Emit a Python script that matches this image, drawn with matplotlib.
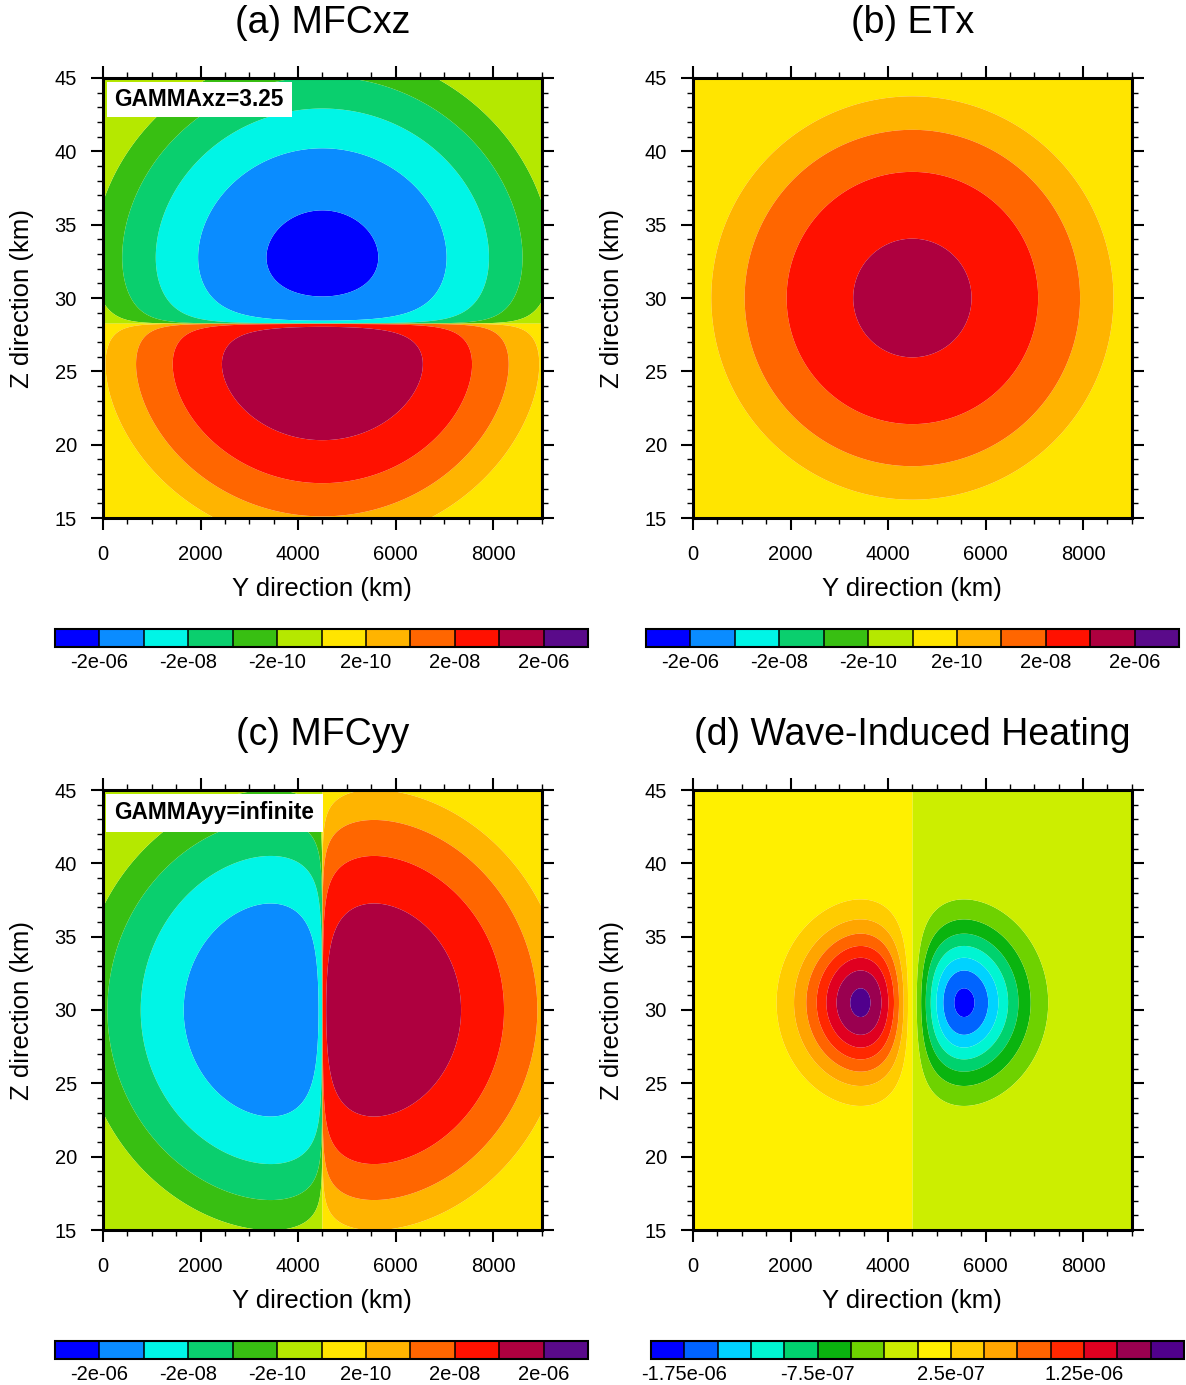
import numpy as np
import matplotlib
matplotlib.use("Agg")
import matplotlib.pyplot as plt
from matplotlib.patches import Rectangle

plt.rcParams['font.family'] = ['Liberation Sans', 'DejaVu Sans']

# ---------------------------------------------------------------- domain
Y_RANGE = [0.0, 9000.0]          # km
Z_RANGE = [15.0, 45.0]           # km
Y_TICKS = [0, 2000, 4000, 6000, 8000]
Z_TICKS = [15, 20, 25, 30, 35, 40, 45]

# ------------------------------------------------ wave-packet parameters
Y_CENTER = 4500.0     # km
Y_WIDTH = 1500.0      # km, e-folding half width
Z_CENTER = 30.0       # km
Z_WIDTH = 5.0         # km
Z_CRITICAL = 28.25    # km, level where MFCxz changes sign
Z_HEATING = 30.5      # km, centre of the heating dipole

ETX_AMP = 3.85e-7     # peak of ETx
MFCXZ_AMP = 1.08e-6   # MFCxz slope per km away from the sign-change level
MFCYY_AMP = 3.85e-6   # MFCyy dipole amplitude
HEAT_AMP = 4.24e-6    # heating dipole amplitude

# ---------------------------------------------------------- contour sets
LOG_LEVELS = [-2e-6, -2e-7, -2e-8, -2e-9, -2e-10, 0.0,
              2e-10, 2e-9, 2e-8, 2e-7, 2e-6]
LOG_TICKS = [-2e-6, -2e-8, -2e-10, 2e-10, 2e-8, 2e-6]
LOG_TICK_LABELS = ['-2e-06', '-2e-08', '-2e-10', '2e-10', '2e-08', '2e-06']
LOG_COLORS = ['#0000FF', '#0A8CFF', '#00F5E6', '#0ACF6E', '#38BF12', '#B5E800',
              '#FFE500', '#FFB400', '#FF6600', '#FF1100', '#AE003F', '#5A0A8A']

HEAT_LEVELS = [-1.75e-6, -1.5e-6, -1.25e-6, -1.0e-6, -7.5e-7, -5.0e-7, -2.5e-7,
               0.0, 2.5e-7, 5.0e-7, 7.5e-7, 1.0e-6, 1.25e-6, 1.5e-6, 1.75e-6]
HEAT_TICKS = [-1.75e-6, -7.5e-7, 2.5e-7, 1.25e-6]
HEAT_TICK_LABELS = ['-1.75e-06', '-7.5e-07', '2.5e-07', '1.25e-06']
HEAT_COLORS = ['#0000FF', '#0064FF', '#00D2FF', '#00F5D2', '#00D26E', '#0AB40F',
               '#6ED200', '#CCEE00', '#FFF000', '#FFCC00', '#FFA500', '#FF6400',
               '#FF2800', '#E00020', '#9A0050', '#50008C']

TITLES = ['(a) MFCxz', '(b) ETx', '(c) MFCyy', '(d) Wave-Induced Heating']
NOTES = ['GAMMAxz=3.25', None, 'GAMMAyy=infinite', None]

# ------------------------------------------------------------ the fields
y = np.linspace(Y_RANGE[0], Y_RANGE[1], 901)
z = np.linspace(Z_RANGE[0], Z_RANGE[1], 1201)
Y, Z = np.meshgrid(y, z)
ey = (Y - Y_CENTER) / Y_WIDTH
gy = np.exp(-ey ** 2)
gz = np.exp(-((Z - Z_CENTER) / Z_WIDTH) ** 2)

etx = ETX_AMP * gy * gz
mfcxz = -MFCXZ_AMP * (Z - Z_CRITICAL) * gy * gz
mfcyy = MFCYY_AMP * ey * gy * gz
heating = -HEAT_AMP * ey * gy * np.exp(-((Z - Z_HEATING) / Z_WIDTH) ** 2)

fields = [mfcxz, etx, mfcyy, heating]
level_sets = [LOG_LEVELS, LOG_LEVELS, LOG_LEVELS, HEAT_LEVELS]
color_sets = [LOG_COLORS, LOG_COLORS, LOG_COLORS, HEAT_COLORS]
tick_sets = [(LOG_TICKS, LOG_TICK_LABELS)] * 3 + [(HEAT_TICKS, HEAT_TICK_LABELS)]

# ---------------------------------------------------------------- layout
W, H = 1186, 1385
fig = plt.figure(figsize=(W / 100, H / 100), dpi=100)


def rect(left, top, right, bottom):
    return [left / W, 1 - bottom / H, (right - left) / W, (bottom - top) / H]


panel_boxes = [(103, 78, 541.75, 518), (693, 78, 1131.75, 518),
               (103, 790, 541.75, 1230), (693, 790, 1131.75, 1230)]
cbar_boxes = [(55, 629, 588, 647), (646, 629, 1179, 647),
              (55, 1341, 588, 1359), (651, 1341, 1184, 1359)]
note_boxes = [(0.0091, 0.9114, 0.4217, 0.0795), None,
              (0.0068, 0.9050, 0.4946, 0.0859), None]

for i in range(4):
    ax = fig.add_axes(rect(*panel_boxes[i]))
    cs = ax.contourf(Y, Z, fields[i], levels=level_sets[i],
                     colors=color_sets[i], extend='both', antialiased=True)
    ax.set_xlim(*Y_RANGE)
    ax.set_ylim(*Z_RANGE)
    ax.set_xticks(Y_TICKS)
    ax.set_yticks(Z_TICKS)
    ax.set_xticks(np.arange(0, 9001, 500), minor=True)
    ax.set_yticks(np.arange(15, 46, 1), minor=True)
    ax.tick_params(which='both', direction='out', top=True, right=True,
                   labelsize=14.5)
    ax.tick_params(which='major', length=8.8, width=1.5)
    ax.tick_params(which='minor', length=4.4, width=1.0)
    ax.tick_params(axis='x', which='major', pad=11)
    ax.tick_params(axis='y', which='major', pad=10)
    for sp in ax.spines.values():
        sp.set_linewidth(2.2)

    ax.set_xlabel('Y direction (km)', fontsize=18.5, va='center')
    ax.xaxis.set_label_coords(0.5, -71 / 440)
    ax.set_ylabel('Z direction (km)', fontsize=18.5, va='center')
    ax.yaxis.set_label_coords(-81 / 438.75, 0.5)

    left, top, right, bottom = panel_boxes[i]
    fig.text((left + right) / 2 / W, 1 - (top - 55) / H, TITLES[i],
             fontsize=27, ha='center', va='center')

    if NOTES[i] is not None:
        bx, by, bw, bh = note_boxes[i]
        ax.add_patch(Rectangle((bx, by), bw, bh, transform=ax.transAxes,
                               facecolor='white', edgecolor='none', zorder=5))
        ax.text(0.0262, by + bh / 2, NOTES[i], transform=ax.transAxes,
                fontsize=16.3, fontweight='bold', ha='left', va='center',
                zorder=6)

    cax = fig.add_axes(rect(*cbar_boxes[i]))
    ticks, labels = tick_sets[i]
    cb = fig.colorbar(cs, cax=cax, orientation='horizontal',
                      extendfrac='auto', extendrect=True, drawedges=True,
                      ticks=ticks)
    cb.set_ticklabels(labels)
    cb.outline.set_linewidth(1.5)
    cb.dividers.set_linewidth(1.1)
    cb.dividers.set_color('black')
    cax.tick_params(length=0, labelsize=14.5, pad=4)

fig.savefig('out.png', dpi=100)
